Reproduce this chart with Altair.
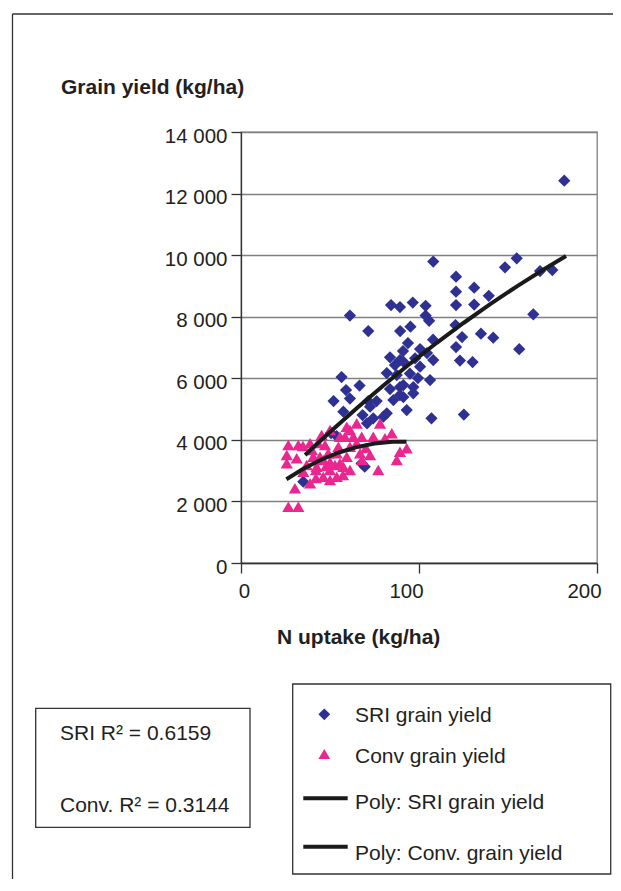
import altair as alt
import pandas as pd

FONT = "Liberation Sans, Arial, Helvetica, sans-serif"
TXT = "#231f20"

# SRI grain yield (N uptake kg/ha, grain yield kg/ha)
sri_x = [181.6, 108.0, 154.9, 148.3, 168.0, 174.9, 120.8, 120.8, 131.0, 139.2,
         84.3, 89.3, 96.5, 103.7, 120.8, 131.0, 61.2, 164.2, 103.7, 105.7,
         71.5, 89.4, 95.2, 120.5, 124.2, 134.8, 141.7, 107.9, 120.8, 156.3,
         91.0, 83.7, 100.6, 108.0, 123.0, 130.1, 89.3, 97.8, 56.5, 66.6,
         81.9, 87.5, 94.9, 100.6, 59.0, 52.0, 61.2, 57.5, 71.5, 76.2,
         83.7, 89.3, 96.8, 85.6, 91.2, 96.8, 93.1, 107.0, 125.2, 68.3,
         70.8, 74.3, 80.0, 81.9, 53.7, 67.8, 35.0, 50.6, 72.5, 86.5,
         93.8, 104.5, 106.2, 99.4, 91.2, 91.2, 89.3, 69.5]
sri_y = [12417, 9792, 9897, 9604, 9484, 9517, 9299, 8812, 8942, 8679,
         8380, 8315, 8461, 8354, 8380, 8396, 8039, 8078, 8039, 7867,
         7535, 7535, 7675, 7730, 7340, 7448, 7318, 7253, 7016, 6944,
         6886, 6681, 6951, 6593, 6577, 6528, 6593, 6649, 6041, 5765,
         6171, 6106, 6155, 6376, 5619, 5262, 5343, 4914, 5262, 5262,
         5651, 5716, 5716, 5294, 5392, 5512, 4969, 4700, 4823, 4807,
         4537, 4700, 4752, 4862, 4125, 3238, 2641, 4222, 5077, 6431,
         7146, 6821, 5944, 6009, 6538, 5781, 5457, 3130]

# Conventional grain yield
conv_x = [26.6, 32.2, 25.7, 31.3, 25.7, 36.9, 35.0, 30.3, 26.6, 32.2,
          38.8, 45.3, 38.8, 42.5, 46.2, 50.0, 53.8, 44.4, 49.0, 54.7,
          58.4, 61.2, 65.0, 59.4, 57.5, 52.8, 65.0, 61.2, 67.8, 74.3,
          78.1, 84.7, 77.1, 87.5, 93.1, 89.3, 50.0, 55.6, 59.4, 63.1,
          66.9, 55.6, 50.0, 46.2, 40.6, 80.9, 53.8, 47.8, 42.1, 34.8,
          70.2, 43.3, 42.1, 50.0, 57.3, 39.9, 47.2, 68.0, 72.5, 61.2]
conv_y = [3833, 3833, 3508, 3401, 3238, 3183, 2965, 2426, 1829, 1829,
          3888, 4157, 2589, 3128, 2803, 2696, 2803, 3453, 3563, 3777,
          4102, 4320, 4537, 3453, 3128, 3183, 3888, 3777, 4102, 4102,
          4537, 4213, 3021, 3345, 3726, 3615, 4320, 4102, 4427, 4102,
          3563, 3238, 3021, 3345, 3453, 4050, 3563, 3150, 2761, 3800,
          3735, 3898, 3021, 3280, 2858, 3670, 3833, 3345, 3508, 3021]

# Polynomial trend lines
sri_fit_x = [36, 50, 65, 80, 95, 110, 125, 140, 155, 170, 182.6]
sri_fit_y = [3508, 4257, 5029, 5769, 6478, 7153, 7796, 8408, 8987, 9535, 9971]
conv_fit_x = [25.5, 35, 45, 55, 65, 75, 85, 93]
conv_fit_y = [2720, 3061, 3355, 3590, 3765, 3880, 3937, 3940]

x_ticks = [0, 100, 200]
y_ticks = [0, 2000, 4000, 6000, 8000, 10000, 12000, 14000]

legend_labels = ["SRI grain yield", "Conv grain yield",
                 "Poly: SRI grain yield", "Poly: Conv. grain yield"]
r2_labels = ["SRI R\u00b2 = 0.6159", "Conv. R\u00b2 = 0.3144"]
x_title = "N uptake (kg/ha)"
y_title = "Grain yield (kg/ha)"

BLUE = "#2E3192"
PINK = "#EC268F"
LINE = "#1a1a1a"

xs = alt.Scale(domain=[0, 200], nice=False, zero=False)
ys = alt.Scale(domain=[0, 14000], nice=False)

x_axis = alt.Axis(values=x_ticks, title=None, grid=False,
                  domainColor="#333333", domainWidth=1.3,
                  tickColor="#333333", tickWidth=1.3, tickSize=10,
                  labelFont=FONT, labelFontSize=20.5, labelColor=TXT,
                  labelPadding=8, labelAlign="center", labelFlush=False,
                  labelOverlap=False,
                  labelOffset={"condition": {"test": "datum.value == 0", "value": 3},
                               "value": -13})
y_axis = alt.Axis(values=y_ticks, title=None, grid=True,
                  gridColor="#808080", gridWidth=1.3,
                  domainColor="#333333", domainWidth=1.3,
                  tickColor="#333333", tickWidth=1.3, tickSize=10,
                  labelFont=FONT, labelFontSize=20.5, labelColor=TXT,
                  labelPadding=4, labelFlush=False, labelOverlap=False,
                  labelOffset=4,
                  labelExpr="replace(format(datum.value, ','), ',', ' ')")

X = alt.X("x:Q", scale=xs, axis=x_axis)
Y = alt.Y("y:Q", scale=ys, axis=y_axis)

sri_df = pd.DataFrame({"x": sri_x, "y": sri_y})
conv_df = pd.DataFrame({"x": conv_x, "y": conv_y})
sri_fit_df = pd.DataFrame({"x": sri_fit_x, "y": sri_fit_y})
conv_fit_df = pd.DataFrame({"x": conv_fit_x, "y": conv_fit_y})

sri_pts = alt.Chart(sri_df).mark_point(shape="diamond", filled=True, size=150,
                                       color=BLUE, opacity=1).encode(x=X, y=Y)
conv_pts = alt.Chart(conv_df).mark_point(shape="triangle-up", filled=True, size=150,
                                         color=PINK, opacity=1).encode(x=X, y=Y)
sri_line = alt.Chart(sri_fit_df).mark_line(color=LINE, strokeWidth=4).encode(x=X, y=Y)
conv_line = alt.Chart(conv_fit_df).mark_line(color=LINE, strokeWidth=4).encode(x=X, y=Y)

one = pd.DataFrame({"a": [0]})


def text(t, x, y, bold=False, size=21):
    return alt.Chart(one).mark_text(align="left", baseline="alphabetic", font=FONT,
                                    fontSize=size, fontWeight="bold" if bold else "normal",
                                    color=TXT).encode(
        x=alt.value(x), y=alt.value(y), text=alt.value(t))


def rule(x1, y1, x2, y2, color="#333333", w=1.3):
    return alt.Chart(one).mark_rule(color=color, strokeWidth=w).encode(
        x=alt.value(x1), x2=alt.value(x2), y=alt.value(y1), y2=alt.value(y2))


def box(x1, y1, x2, y2):
    return alt.Chart(one).mark_rect(fillOpacity=0, stroke="#333333", strokeWidth=1.3).encode(
        x=alt.value(x1), x2=alt.value(x2), y=alt.value(y1), y2=alt.value(y2))


def sym(shape, color, x, y):
    return alt.Chart(one).mark_point(shape=shape, filled=True, size=140, color=color,
                                     opacity=1).encode(x=alt.value(x), y=alt.value(y))


annotations = [
    rule(-228.5, -118, -228.5, 760),
    rule(-228.5, -118, 372, -118),
    text(y_title, -180, -38, bold=True),
    text(x_title, 36, 512, bold=True),
    box(51.7, 552, 369.7, 742),
    sym("diamond", BLUE, 83.3, 582.3),
    sym("triangle-up", PINK, 83.3, 622),
    rule(62.3, 666.3, 106.7, 666.3, color=LINE, w=4),
    rule(62.3, 714.7, 106.7, 714.7, color=LINE, w=4),
    text(legend_labels[0], 114, 590),
    text(legend_labels[1], 114, 631),
    text(legend_labels[2], 114, 677),
    text(legend_labels[3], 114, 728),
    box(-205.3, 576.3, 9, 695.3),
    text(r2_labels[0], -181, 608),
    text(r2_labels[1], -181, 680),
]

chart = alt.layer(sri_pts, conv_pts, sri_line, conv_line, *annotations).properties(
    width=356, height=431,
    autosize=alt.AutoSizeParams(type="none"),
    padding={"left": 233, "top": 124, "right": 16, "bottom": 316},
    background="white",
).configure_view(stroke="#808080", strokeWidth=1.3)

chart.save("out.html", embed_options={"renderer": "svg", "actions": False})
